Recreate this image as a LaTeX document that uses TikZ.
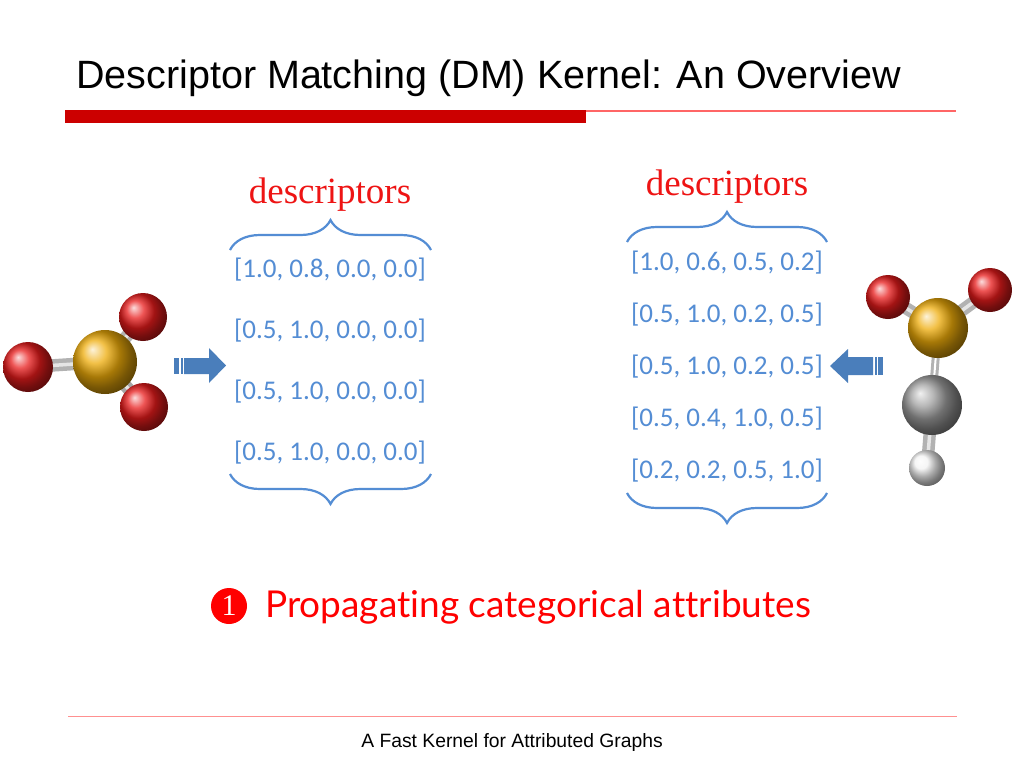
\documentclass[tikz,border=0pt]{standalone}
\usepackage{fontspec}
\setmainfont{Liberation Sans}
\newfontfamily\vecfont{Carlito}
\newfontfamily\descfont{Liberation Serif}
\newfontfamily\notefont{Lato}[Ligatures=NoCommon]
\usetikzlibrary{decorations.pathreplacing, backgrounds, positioning}
\pgfdeclarelayer{bondlayer}
\pgfsetlayers{background,bondlayer,main}
\definecolor{titlered}{RGB}{204,0,0}
\definecolor{vecblue}{RGB}{84,141,212}
\definecolor{descred}{RGB}{238,20,20}
\definecolor{arrowblue}{RGB}{74,126,187}
\definecolor{sgold}{RGB}{238,172,10}
\definecolor{oxred}{RGB}{232,28,28}

\begin{document}
\begin{tikzpicture}[x=1pt, y=-1pt,
    vec/.style={font=\vecfont\fontsize{27}{30}\selectfont, text=vecblue, inner sep=0pt},
    desc/.style={font=\descfont\fontsize{37}{40}\selectfont, text=descred, inner sep=0pt, anchor=base},
    brc/.style={draw=vecblue, line width=2.2pt, decorate, decoration={brace, amplitude=30pt}},
    atom/.style={circle, inner sep=0pt, minimum size=#1, shading=ball},
    bond/.style={draw=gray!60, double=gray!20, line width=4.5pt, double distance=3.5pt}
]
    \useasboundingbox (0,0) rectangle (1024,768);
    \begin{pgfonlayer}{background}
        \fill[white] (0,0) rectangle (1024,768);
    \end{pgfonlayer}

    % Title and rules
    \node[font=\fontsize{39.5}{42}\selectfont, anchor=base west, inner sep=0pt] (title) at (76,88) {Descriptor Matching (DM) Kernel: An Overview};
    \fill[titlered] (65,110) rectangle (586,123);
    \draw[red!60, line width=1.5pt] (586,111) -- (956,111);
    \draw[red!25!pink, line width=1pt] (68,716) -- (957,716);
    \node[font=\fontsize{19.3}{21}\selectfont, anchor=base, inner sep=0pt] (foot) at (512,747) {A Fast Kernel for Attributed Graphs};

    % Left molecule
    \node[atom=64pt, ball color=sgold] (s1) at (105,362) {};
    \node[atom=50pt, ball color=oxred] (o1) at (28,367) {};
    \node[atom=48pt, ball color=oxred] (o2) at (143,317) {};
    \node[atom=48pt, ball color=oxred] (o3) at (144,407) {};

    % Right molecule
    \node[atom=44pt, ball color=oxred] (o4) at (888,297) {};
    \node[atom=44pt, ball color=oxred] (o5) at (990,290) {};
    \node[atom=60pt, ball color=sgold] (s2) at (938,328) {};
    \node[atom=60pt, ball color=gray!75] (c2) at (932,405) {};
    \node[atom=36pt, ball color=gray!10] (h2) at (927,468) {};

    % Bonds
    \begin{pgfonlayer}{bondlayer}
        \draw[bond] (o1.center) -- (s1.center);
        \draw[bond] (s1.center) -- (o2.center);
        \draw[bond, draw=gray!70] (s1.center) -- (o3.center);
        \draw[bond] (o4.center) -- (s2.center);
        \draw[bond] (s2.center) -- (o5.center);
        \draw[bond, double=white, line width=3pt, double distance=2pt] (s2.center) -- (c2.center);
        \draw[bond] (c2.center) -- (h2.center);
    \end{pgfonlayer}

    % Striped arrows
    \fill[arrowblue] (184,358) -- (209,358) -- (209,348) -- (226,365.5) -- (209,383) -- (209,374) -- (184,374) -- cycle;
    \fill[arrowblue] (174,358) rectangle (179,374);
    \fill[arrowblue] (180.5,358) rectangle (182.5,374);
    \fill[arrowblue] (873,357) -- (848,357) -- (848,349) -- (830,366) -- (848,383) -- (848,375) -- (873,375) -- cycle;
    \fill[arrowblue] (874.5,357) rectangle (876.5,375);
    \fill[arrowblue] (878,357) rectangle (883,375);

    % Left descriptors
    \node[desc] (dl) at (330,203) {descriptors};
    \coordinate (lt1) at (230,250);
    \coordinate (lt2) at (431,250);
    \draw[brc] (lt1) -- (lt2);
    \node[vec] (l1) at (330,270) {[1.0, 0.8, 0.0, 0.0]};
    \node[vec] (l2) at (330,331) {[0.5, 1.0, 0.0, 0.0]};
    \node[vec] (l3) at (330,392) {[0.5, 1.0, 0.0, 0.0]};
    \node[vec] (l4) at (330,453) {[0.5, 1.0, 0.0, 0.0]};
    \coordinate (lb1) at (230,474);
    \coordinate (lb2) at (431,474);
    \draw[brc] (lb2) -- (lb1);

    % Right descriptors
    \node[desc] (dr) at (727,195) {descriptors};
    \coordinate (rt1) at (627,242);
    \coordinate (rt2) at (827,242);
    \draw[brc] (rt1) -- (rt2);
    \node[vec] (r1) at (727,263) {[1.0, 0.6, 0.5, 0.2]};
    \node[vec] (r2) at (727,315) {[0.5, 1.0, 0.2, 0.5]};
    \node[vec] (r3) at (727,367) {[0.5, 1.0, 0.2, 0.5]};
    \node[vec] (r4) at (727,419) {[0.5, 0.4, 1.0, 0.5]};
    \node[vec] (r5) at (727,471) {[0.2, 0.2, 0.5, 1.0]};
    \coordinate (rb1) at (627,493);
    \coordinate (rb2) at (827,493);
    \draw[brc] (rb2) -- (rb1);

    % Step label
    \node[circle, fill=red, inner sep=0pt, minimum size=36pt, text=white, font=\descfont\fontsize{30}{30}\selectfont] (num) at (229,606) {1};
    \node[font=\notefont\fontsize{37}{40}\selectfont, text=red, anchor=base west, inner sep=0pt] (prop) at (265,617) {Propagating categorical attributes};
\end{tikzpicture}
\end{document}
